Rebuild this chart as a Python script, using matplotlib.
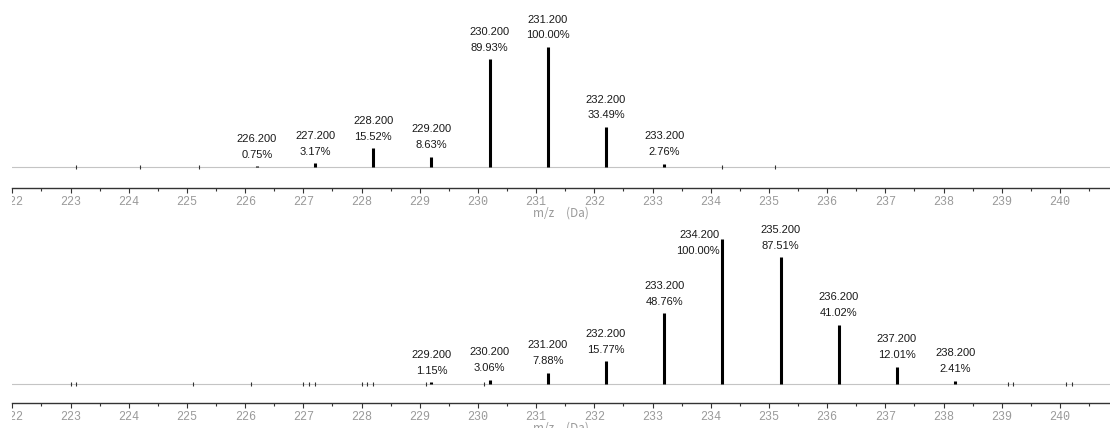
import matplotlib
matplotlib.use("Agg")
import matplotlib.pyplot as plt
from matplotlib.ticker import MultipleLocator
from matplotlib.transforms import Bbox, TransformedBbox

# Isotope pattern peaks (m/z, relative abundance %)
top_mz = [226.2, 227.2, 228.2, 229.2, 230.2, 231.2, 232.2, 233.2]
top_pct = [0.75, 3.17, 15.52, 8.63, 89.93, 100.00, 33.49, 2.76]
top_minor_mz = [223.1, 224.2, 225.2, 234.2, 235.1]

bottom_mz = [229.2, 230.2, 231.2, 232.2, 233.2, 234.2, 235.2, 236.2, 237.2, 238.2]
bottom_pct = [1.15, 3.06, 7.88, 15.77, 48.76, 100.00, 87.51, 41.02, 12.01, 2.41]
bottom_minor_mz = [223.0, 223.1, 225.1, 226.1, 227.0, 227.1, 227.2, 228.0,
                   228.1, 228.2, 229.1, 230.1, 239.1, 239.2, 240.1, 240.2]

x_label = "m/z\u3000(Da)"
x_range = (222.0, 240.86)

W, H = 1110, 428
fig = plt.figure(figsize=(W / 100, H / 100), dpi=100)

AX_LEFT_PX = 12.4
AX_H_PX = 188


def make_axes(spine_y_px, ylim):
    ax = fig.add_axes([AX_LEFT_PX / W, (H - spine_y_px) / H,
                       (W - AX_LEFT_PX) / W, AX_H_PX / H])
    ax.set_xlim(*x_range)
    ax.set_ylim(*ylim)
    for side in ("top", "left", "right"):
        ax.spines[side].set_visible(False)
    ax.spines["bottom"].set_color("#333333")
    ax.spines["bottom"].set_linewidth(1.0)
    ax.set_yticks([])
    ax.xaxis.set_major_locator(MultipleLocator(1))
    ax.xaxis.set_minor_locator(MultipleLocator(0.5))
    ax.tick_params(axis="x", which="major", direction="out", length=3.4,
                   width=0.8, color="#333333", labelsize=8.5,
                   labelcolor="#9a9a9a", pad=2.5)
    ax.tick_params(axis="x", which="minor", direction="out", length=1.8,
                   width=0.8, color="#333333")
    ax.xaxis.set_major_formatter(plt.FuncFormatter(lambda v, p: f"{v:.0f}"))
    for lab in ax.get_xticklabels():
        lab.set_fontfamily("Liberation Mono")
    ax.set_xlabel(x_label, fontsize=8.5, color="#9a9a9a",
                  fontfamily=["Noto Sans CJK SC", "Liberation Mono"], va="center")
    ax.xaxis.set_label_coords(0.5, -25 / AX_H_PX)
    ax.patch.set_alpha(0)
    return ax


def draw_panel(ax, mz, pct, minor_mz):
    ax.axhline(0, color="#c4c4c4", linewidth=0.8, zorder=1)
    ax.vlines(mz, 0, pct, colors="black", linewidth=2.2, zorder=3,
              capstyle="butt")
    ax.plot(minor_mz, [0] * len(minor_mz), linestyle="none", marker="|",
            markersize=2.4, markeredgewidth=0.8, color="#333333", zorder=2)

    top_px = ax.bbox.y1
    for x, v in zip(mz, pct):
        peak_px = ax.transData.transform((x, v))[1]
        label_top = peak_px + 11.5 + 15.7 + 6
        if label_top > top_px:
            # not enough room above: set the label beside the bar
            offs = [(-3, -12), (-3, 4)]
            ha = "right"
        else:
            offs = [(0, 11.5), (0, 27.2)]
            ha = "center"
        for (dx, dy), txt in zip(offs, [f"{v:.2f}%", f"{x:.3f}"]):
            ax.annotate(txt, (x, v), xytext=(dx, dy), textcoords="offset pixels",
                        ha=ha, va="center", fontsize=8,
                        fontfamily="Liberation Sans", color="#1a1a1a",
                        annotation_clip=False)

    # tick labels are cut off at the axis start
    clip = TransformedBbox(Bbox([[AX_LEFT_PX / W, 0], [1, 1]]), fig.transFigure)
    for lab in ax.get_xticklabels():
        lab.set_clip_box(clip)
        lab.set_clip_on(True)


# upper panel: spine at y=188 px, baseline 21 px above it, 1.2 px per %
ax1 = make_axes(188, (-21 / 1.2, (AX_H_PX - 21) / 1.2))
draw_panel(ax1, top_mz, top_pct, top_minor_mz)

# lower panel: spine at y=403 px, baseline 19 px above it, 1.45 px per %
ax2 = make_axes(403, (-19 / 1.45, (AX_H_PX - 19) / 1.45))
draw_panel(ax2, bottom_mz, bottom_pct, bottom_minor_mz)

fig.savefig("out.png", dpi=100, facecolor="white")
